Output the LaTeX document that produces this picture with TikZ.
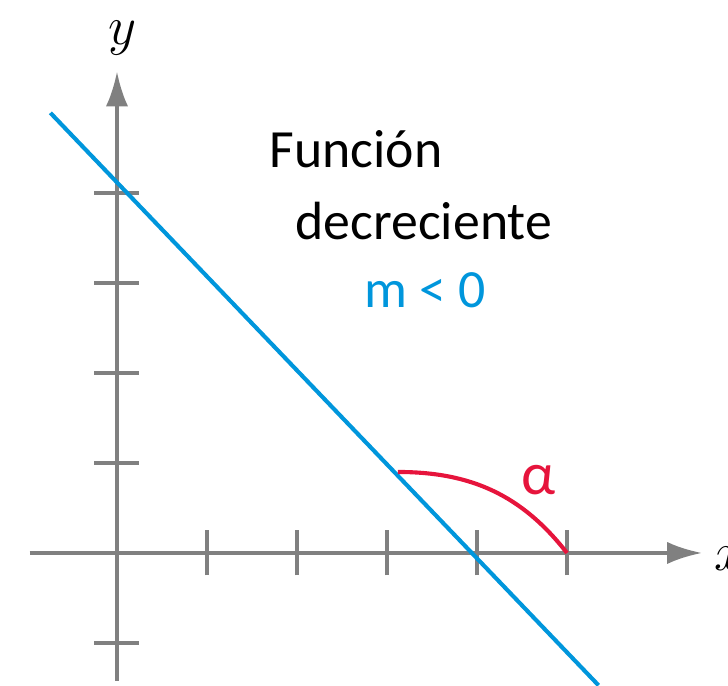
\documentclass[tikz,border=0pt]{standalone}
\usepackage{fontspec}
\setmainfont{Carlito}
\usetikzlibrary{arrows.meta, positioning, calc}
\definecolor{lineblue}{RGB}{0,150,220}
\definecolor{axisgray}{RGB}{128,128,128}
\definecolor{anglered}{RGB}{230,20,60}

\begin{document}
\begin{tikzpicture}[thick, >={Latex[length=11pt,width=7pt]},
    axis/.style={draw=axisgray, line width=1.2pt},
    graph/.style={draw=lineblue, line width=1.3pt},
    txt/.style={font=\fontsize{17}{20}\selectfont, anchor=base west, inner sep=0pt}]
    \useasboundingbox (-1.3,-1.478) rectangle (6.789,6.144);

    % axes
    \coordinate (xstart) at (-0.97,0);
    \coordinate (xend) at (6.5,0);
    \coordinate (ystart) at (0,-1.42);
    \coordinate (yend) at (0,5.35);
    \draw [axis, ->] (xstart) -- (xend);
    \draw [axis, ->] (ystart) -- (yend);
    \foreach \i in {1,...,5} \draw [axis] (\i,-0.25) -- (\i,0.25);
    \foreach \j in {-1,1,2,3,4} \draw [axis] (-0.25,\j) -- (0.25,\j);
    \node (ylab) at (0.06,5.72) {\fontsize{18}{20}\selectfont$y$};
    \node [anchor=west, inner sep=0pt] (xlab) at (6.63,-0.06) {\fontsize{18}{20}\selectfont$x$};

    % line and angle
    \coordinate (lstart) at (-0.74,4.89);
    \coordinate (lend) at (5.35,-1.47);
    \draw [graph] (lstart) -- (lend);
    \coordinate (astart) at (3.12,0.9);
    \coordinate (aend) at (5,0);
    \draw [draw=anglered, line width=1.3pt] (astart) to[out=0, in=128] (aend);
    \node [text=anglered, font=\fontsize{19}{22}\selectfont] (alpha) at (4.68,0.81) {α};

    % labels
    \node [txt] (title1) at (1.68,4.28) {Función};
    \node [txt] (title2) at (1.97,3.48) {decreciente};
    \node [txt, text=lineblue] (slope) at (2.74,2.73) {m < 0};
\end{tikzpicture}
\end{document}
